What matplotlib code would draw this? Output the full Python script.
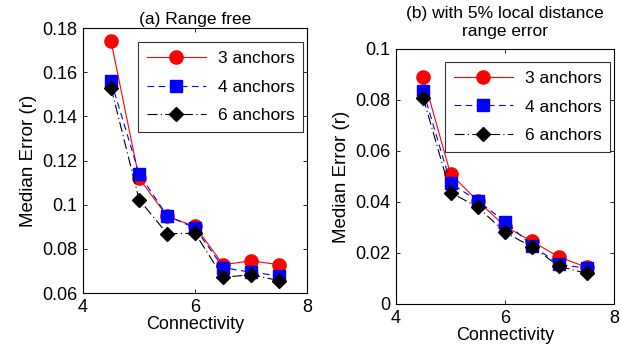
import matplotlib
matplotlib.use("Agg")
import matplotlib.pyplot as plt

plt.rcParams['font.family'] = ['Liberation Sans', 'DejaVu Sans']

connectivity = [4.5, 5.0, 5.5, 6.0, 6.5, 7.0, 7.5]

a_3 = [0.174, 0.112, 0.0947, 0.0902, 0.0728, 0.0746, 0.0728]
a_4 = [0.156, 0.114, 0.095, 0.0894, 0.0715, 0.0694, 0.0678]
a_6 = [0.153, 0.1023, 0.0869, 0.087, 0.0671, 0.0683, 0.0656]

b_3 = [0.089, 0.051, 0.0404, 0.0304, 0.0245, 0.0183, 0.0144]
b_4 = [0.0834, 0.0474, 0.0404, 0.0323, 0.0228, 0.0155, 0.014]
b_6 = [0.0808, 0.0437, 0.038, 0.0281, 0.0223, 0.0147, 0.012]

labels = ['3 anchors', '4 anchors', '6 anchors']
titles = ['(a) Range free', '(b) with 5% local distance\nrange error']
xticks = [4, 6, 8]
a_yticks = [0.06, 0.08, 0.1, 0.12, 0.14, 0.16, 0.18]
a_yticklabels = ['0.06', '0.08', '0.1', '0.12', '0.14', '0.16', '0.18']
b_yticks = [0, 0.02, 0.04, 0.06, 0.08, 0.1]
b_yticklabels = ['0', '0.02', '0.04', '0.06', '0.08', '0.1']

fig = plt.figure(figsize=(6.21, 3.45), dpi=100)
ax1 = fig.add_axes([0.1337, 0.1507, 0.361, 0.768])
ax2 = fig.add_axes([0.6377, 0.119, 0.351, 0.739])

styles = [
    dict(color='red', linestyle='-', marker='o', markersize=9.5, markerfacecolor='red', markeredgecolor='red'),
    dict(color='blue', linestyle=(0, (6, 4)), marker='s', markersize=9, markerfacecolor='blue', markeredgecolor='blue'),
    dict(color='black', linestyle=(0, (9, 3, 1, 3)), marker='D', markersize=7.5, markerfacecolor='black', markeredgecolor='black'),
]

fs = 13

def setup(ax, series, title, yticks, yticklabels, ylim, legbox, tpad):
    for ys, lab, st in zip(series, labels, styles):
        ax.plot(connectivity, ys, linewidth=0.8, label=lab, **st)
    ax.set_xlim(4, 8)
    ax.set_ylim(*ylim)
    ax.set_xticks(xticks)
    ax.set_yticks(yticks)
    ax.set_yticklabels(yticklabels)
    ax.tick_params(direction='in', labelsize=fs, length=3, width=0.6,
                   top=True, right=True, pad=4)
    for sp in ax.spines.values():
        sp.set_linewidth(0.8)
    ax.set_xlabel('Connectivity', fontsize=fs, labelpad=0)
    ax.set_ylabel('Median Error (r)', fontsize=fs + 0.5, labelpad=4)
    ax.set_title(title, fontsize=fs - 0.5, pad=tpad, linespacing=1.3)
    leg = ax.legend(loc='upper left', bbox_to_anchor=legbox, fontsize=fs - 0.5,
                    frameon=True, fancybox=False, edgecolor='black',
                    handlelength=3.4, handletextpad=0.7, borderpad=0.5,
                    labelspacing=0.78, borderaxespad=0)
    leg.get_frame().set_linewidth(0.8)

setup(ax1, [a_3, a_4, a_6], titles[0], a_yticks, a_yticklabels, (0.06, 0.18), (0.245, 0.947), 3)
setup(ax2, [b_3, b_4, b_6], titles[1], b_yticks, b_yticklabels, (0, 0.1), (0.225, 0.949), 9)

fig.savefig('out.png', dpi=100)
